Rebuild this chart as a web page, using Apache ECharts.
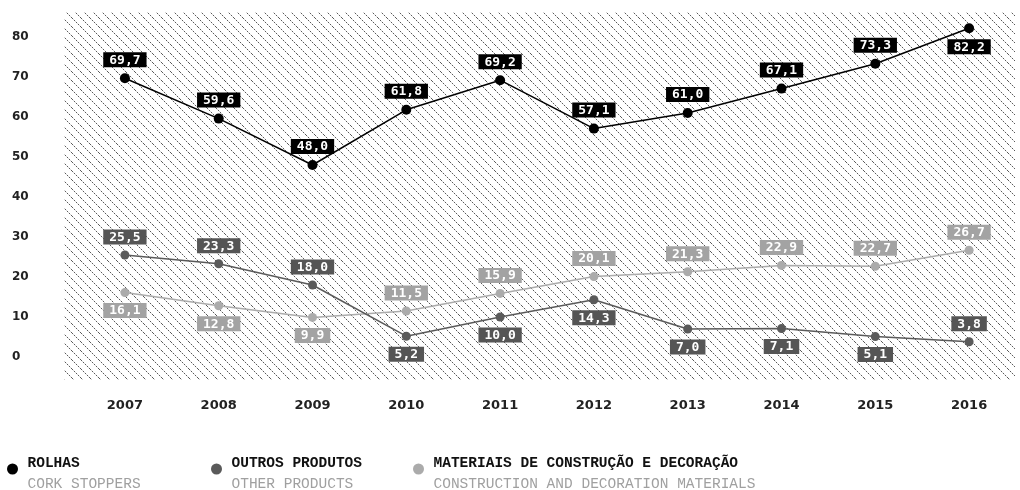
<!DOCTYPE html>
<html>
<head>
<meta charset="utf-8">
<script src="https://cdn.jsdelivr.net/npm/echarts@6/dist/echarts.min.js"></script>
<style>
html,body{margin:0;padding:0;background:#fff;}
#chart{width:1020px;height:490px;}
</style>
</head>
<body>
<div id="chart"></div>
<script>
// ---- data ----
const years = ['2007','2008','2009','2010','2011','2012','2013','2014','2015','2016'];
const rolhas = [69.7, 59.6, 48.0, 61.8, 69.2, 57.1, 61.0, 67.1, 73.3, 82.2];
const outros = [25.5, 23.3, 18.0, 5.2, 10.0, 14.3, 7.0, 7.1, 5.1, 3.8];
const materiais = [16.1, 12.8, 9.9, 11.5, 15.9, 20.1, 21.3, 22.9, 22.7, 26.7];
const yTicks = [0, 10, 20, 30, 40, 50, 60, 70, 80];
const seriesNames = ['ROLHAS', 'OUTROS PRODUTOS', 'MATERIAIS DE CONSTRUÇÃO E DECORAÇÃO'];
const seriesSubtitles = ['CORK STOPPERS', 'OTHER PRODUCTS', 'CONSTRUCTION AND DECORATION MATERIALS'];

// ---- layout (label placement) ----
const T = 'top', B = 'bottom';
const layoutRolhas = [T,T,T,T,T,T,T,T,T,B];
const layoutOutros = [T,T,T,B,B,B,B,B,B,T];
const layoutMateriais = [B,B,B,T,T,T,T,T,T,T];

// hatch pattern (dotted diagonal lines, top-left to bottom-right)
function makeHatch() {
  const n = 9;
  const c = document.createElement('canvas');
  c.width = n; c.height = n;
  const ctx = c.getContext('2d');
  for (let i = 0; i < n; i++) {
    ctx.fillStyle = (i % 2 === 0) ? '#5a5a5a' : '#d2d2d2';
    ctx.fillRect(i, i, 1, 1);
  }
  return c;
}

const fmt = v => v.toFixed(1).replace('.', ',');
const colors = ['#000000', '#5a5a5a', '#ababab'];
const labelBg = ['#000000', '#555555', '#a3a3a3'];
const symSizes = [10, 9, 9];

function buildSeries(idx, values, layout) {
  return {
    name: seriesNames[idx],
    type: 'line',
    xAxisIndex: 1,
    yAxisIndex: 1,
    clip: false,
    z: 10 - idx,
    symbol: 'circle',
    symbolSize: symSizes[idx],
    itemStyle: { color: colors[idx] },
    lineStyle: { color: colors[idx], width: 1.5 },
    data: values.map((v, i) => ({ value: v, label: { position: layout[i] } })),
    label: {
      show: true,
      distance: 6,
      formatter: p => fmt(p.value),
      color: '#fff',
      backgroundColor: labelBg[idx],
      fontFamily: 'DejaVu Sans Mono',
      fontWeight: 'bold',
      fontSize: 13,
      lineHeight: 14,
      padding: [1, 6, 0, 6]
    },
    emphasis: { disabled: true },
    animation: false
  };
}

function buildLegend(idx, left) {
  return {
    data: [seriesNames[idx]],
    left: left,
    top: 456,
    padding: 0,
    icon: 'circle',
    itemWidth: 20,
    itemHeight: 11,
    itemGap: 0,
    selectedMode: false,
    formatter: name => '{a|' + name + '}\n{b|' + seriesSubtitles[idx] + '}',
    textStyle: {
      padding: [10, 0, 0, 0],
      rich: {
        a: { fontFamily: 'Liberation Mono', fontWeight: 'bold', fontSize: 14.5, color: '#111', lineHeight: 21 },
        b: { fontFamily: 'Liberation Mono', fontSize: 14.5, color: '#a0a0a0', lineHeight: 21 }
      }
    }
  };
}

const chart = echarts.init(document.getElementById('chart'), null, { renderer: 'canvas' });
chart.setOption({
  animation: false,
  backgroundColor: '#fff',
  grid: [
    { left: 64, right: 5, top: 12, bottom: 110, show: true, borderWidth: 0,
      backgroundColor: { image: makeHatch(), repeat: 'repeat' } },
    { left: 78, right: 4, top: 37, bottom: 133 }
  ],
  xAxis: [
    { gridIndex: 0, type: 'category', data: years, show: false },
    { gridIndex: 1, type: 'category', data: years, boundaryGap: true,
      axisLine: { show: false }, axisTick: { show: false }, splitLine: { show: false },
      axisLabel: { margin: 42, color: '#222', fontFamily: 'DejaVu Sans', fontWeight: 'bold', fontSize: 13 } }
  ],
  yAxis: [
    { gridIndex: 0, type: 'value', show: false },
    { gridIndex: 1, type: 'value', min: 0, max: 80, interval: 10,
      axisLine: { show: false }, axisTick: { show: false }, splitLine: { show: false },
      axisLabel: { align: 'left', margin: 66, color: '#222', fontFamily: 'DejaVu Sans', fontWeight: 'bold', fontSize: 12,
        customValues: yTicks } }
  ],
  legend: [buildLegend(0, 7), buildLegend(1, 211), buildLegend(2, 413)],
  series: [
    buildSeries(0, rolhas, layoutRolhas),
    buildSeries(1, outros, layoutOutros),
    buildSeries(2, materiais, layoutMateriais)
  ]
});
</script>
</body>
</html>
